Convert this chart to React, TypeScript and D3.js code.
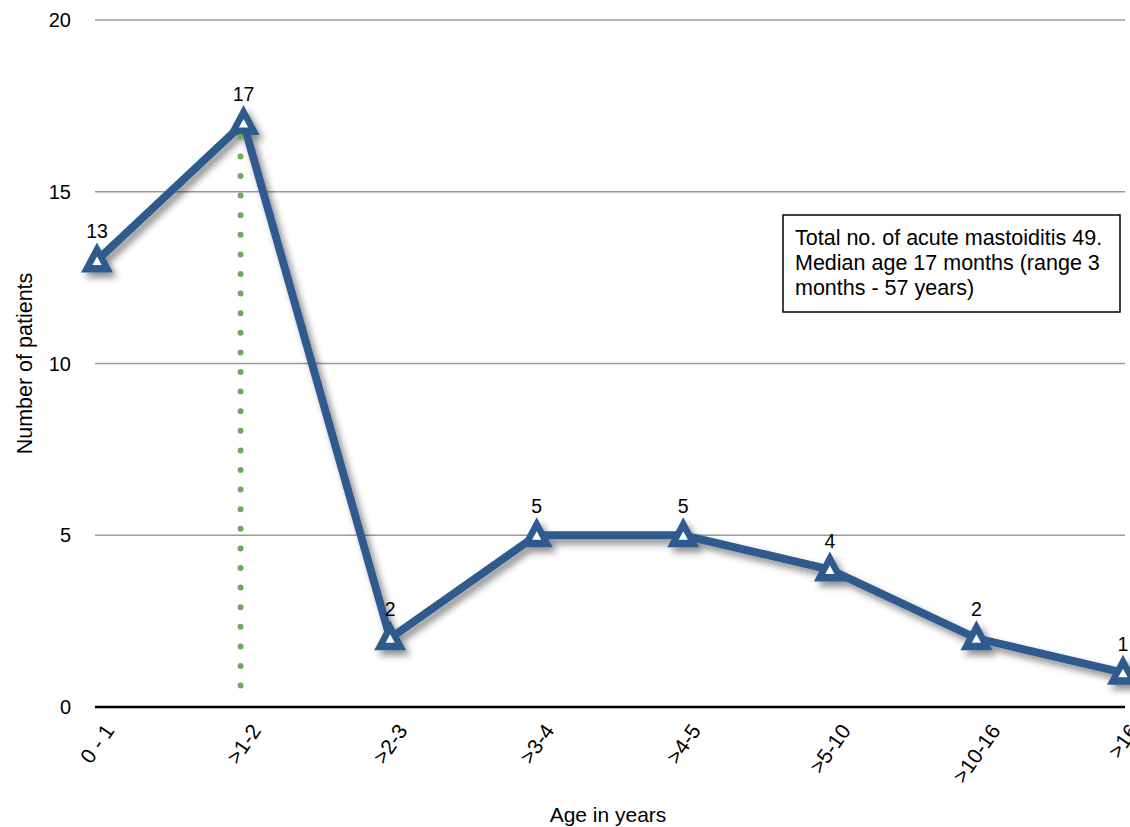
import React, { useEffect, useRef } from "react";
import * as d3 from "d3";

// Age groups (years) and number of patients with acute mastoiditis in each
const ageGroups: string[] = ["0 - 1", ">1-2", ">2-3", ">3-4", ">4-5", ">5-10", ">10-16", ">16"];
const patientCounts: number[] = [13, 17, 2, 5, 5, 4, 2, 1];
const yTicks: number[] = [0, 5, 10, 15, 20];
const medianGroup = ">1-2";
const noteLines: string[] = [
  "Total no. of acute mastoiditis 49.",
  "Median age 17 months (range 3",
  "months - 57 years)",
];

const W = 1130;
const H = 827;
const FONT = "'Liberation Sans', Arial, Helvetica, sans-serif";
const BLUE = "#2F5A8D";
const GREEN = "#6FA95E";

export default function App() {
  const ref = useRef<SVGSVGElement | null>(null);

  useEffect(() => {
    const svg = d3.select(ref.current);
    svg.selectAll("*").remove();

    const x = d3.scalePoint<string>().domain(ageGroups).range([97, 1123]);
    const y = d3.scaleLinear().domain([0, 20]).range([707, 20]);
    const axisLeft = 95;
    const axisRight = 1125;

    const defs = svg.append("defs");
    const f = defs
      .append("filter")
      .attr("id", "seriesShadow")
      .attr("x", "-10%")
      .attr("y", "-10%")
      .attr("width", "120%")
      .attr("height", "130%");
    f.append("feDropShadow")
      .attr("dx", 4)
      .attr("dy", 5)
      .attr("stdDeviation", 3.5)
      .attr("flood-color", "#000")
      .attr("flood-opacity", 0.45);

    // horizontal gridlines
    svg
      .append("g")
      .selectAll("line")
      .data(yTicks.filter((t) => t > 0))
      .join("line")
      .attr("x1", axisLeft)
      .attr("x2", axisRight)
      .attr("y1", (d) => y(d))
      .attr("y2", (d) => y(d))
      .attr("stroke", "#9a9a9a")
      .attr("stroke-width", 1.5);

    // baseline axis
    svg
      .append("line")
      .attr("x1", axisLeft)
      .attr("x2", axisRight)
      .attr("y1", y(0))
      .attr("y2", y(0))
      .attr("stroke", "#000")
      .attr("stroke-width", 2.5);

    // y tick labels
    svg
      .append("g")
      .selectAll("text")
      .data(yTicks)
      .join("text")
      .attr("x", 71)
      .attr("y", (d) => y(d))
      .attr("dy", "0.36em")
      .attr("text-anchor", "end")
      .attr("font-family", FONT)
      .attr("font-size", 20)
      .attr("fill", "#000")
      .text((d) => d);

    // rotated category labels, centred under each category
    const angle = -55;
    const rad = (Math.abs(angle) * Math.PI) / 180;
    const labelTop = 722;
    const xl = svg.append("g");
    ageGroups.forEach((g) => {
      const t = xl
        .append("text")
        .attr("text-anchor", "middle")
        .attr("dominant-baseline", "central")
        .attr("font-family", FONT)
        .attr("font-size", 21)
        .attr("fill", "#000")
        .text(g);
      const len = (t.node() as SVGTextElement).getComputedTextLength();
      const h = 15;
      const bboxH = len * Math.sin(rad) + h * Math.cos(rad);
      t.attr("transform", `translate(${x(g)},${labelTop + bboxH / 2}) rotate(${angle})`);
    });

    // axis titles
    svg
      .append("text")
      .attr("x", 608)
      .attr("y", 822)
      .attr("text-anchor", "middle")
      .attr("font-family", FONT)
      .attr("font-size", 21)
      .text("Age in years");
    svg
      .append("text")
      .attr("transform", `translate(25,${y(10)}) rotate(-90)`)
      .attr("text-anchor", "middle")
      .attr("dominant-baseline", "central")
      .attr("font-family", FONT)
      .attr("font-size", 21.5)
      .text("Number of patients");

    // series line and triangle markers
    const pts = ageGroups.map((g, i) => ({ g, v: patientCounts[i] }));
    const series = svg.append("g").attr("filter", "url(#seriesShadow)");
    const line = d3
      .line<{ g: string; v: number }>()
      .x((d) => x(d.g) as number)
      .y((d) => y(d.v));
    series
      .append("path")
      .attr("d", line(pts))
      .attr("fill", "none")
      .attr("stroke", BLUE)
      .attr("stroke-width", 8)
      .attr("stroke-linejoin", "miter");
    const outer = (cx: number, cy: number) =>
      `M${cx},${cy - 18}L${cx + 16},${cy + 12}L${cx - 16},${cy + 12}Z`;
    const inner = (cx: number, cy: number) =>
      `M${cx},${cy - 4}L${cx + 4.6},${cy + 4.5}L${cx - 4.6},${cy + 4.5}Z`;
    series
      .selectAll("path.outer")
      .data(pts)
      .join("path")
      .attr("class", "outer")
      .attr("d", (d) => outer(x(d.g) as number, y(d.v)))
      .attr("fill", BLUE);
    svg
      .append("g")
      .selectAll("path")
      .data(pts)
      .join("path")
      .attr("d", (d) => inner(x(d.g) as number, y(d.v)))
      .attr("fill", "#fff");

    // dotted median marker
    const mx = (x(medianGroup) as number) - 3;
    svg
      .append("line")
      .attr("x1", mx)
      .attr("x2", mx)
      .attr("y1", y(16.6))
      .attr("y2", y(0.6))
      .attr("stroke", GREEN)
      .attr("stroke-width", 6)
      .attr("stroke-linecap", "round")
      .attr("stroke-dasharray", "0 19.6");

    // value labels
    svg
      .append("g")
      .selectAll("text")
      .data(pts)
      .join("text")
      .attr("x", (d) => x(d.g) as number)
      .attr("y", (d) => y(d.v) - 22)
      .attr("text-anchor", "middle")
      .attr("font-family", FONT)
      .attr("font-size", 19.5)
      .attr("fill", "#000")
      .text((d) => d.v);

    // annotation box
    svg
      .append("rect")
      .attr("x", 783)
      .attr("y", 215)
      .attr("width", 337)
      .attr("height", 97)
      .attr("fill", "#fff")
      .attr("stroke", "#000")
      .attr("stroke-width", 1.5);
    svg
      .append("g")
      .selectAll("text")
      .data(noteLines)
      .join("text")
      .attr("x", 795)
      .attr("y", (_, i) => 245 + i * 25)
      .attr("font-family", FONT)
      .attr("font-size", 21.5)
      .attr("fill", "#000")
      .text((d) => d);
  }, []);

  return (
    <svg
      ref={ref}
      width={W}
      height={H}
      style={{ position: "absolute", left: 0, top: 0, background: "#fff" }}
    />
  );
}
